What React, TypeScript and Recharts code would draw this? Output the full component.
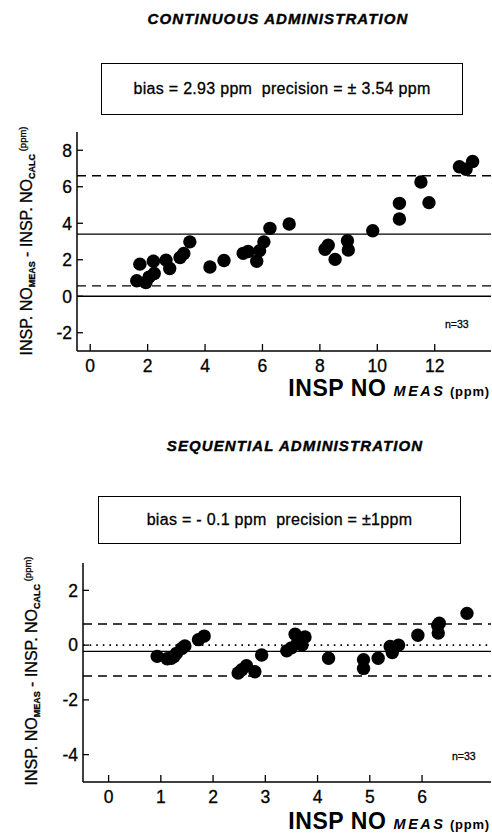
import React from "react";
import {
  ScatterChart,
  Scatter,
  XAxis,
  YAxis,
  ReferenceLine,
} from "recharts";

// Continuous administration (top panel)
const continuousMeas = [
  1.62, 1.73, 1.94, 2.05, 2.2, 2.23, 2.64, 2.77, 3.13, 3.26, 3.47, 4.17, 4.66,
  5.33, 5.5, 5.8, 5.9, 6.05, 6.26, 6.93, 8.18, 8.29, 8.53, 8.96, 8.99, 9.84,
  10.77, 10.77, 11.52, 11.8, 12.86, 13.09, 13.32,
];
const continuousDiff = [
  0.85, 1.76, 0.75, 1.05, 1.92, 1.25, 1.98, 1.52, 2.12, 2.34, 2.98, 1.6, 1.96,
  2.35, 2.45, 1.92, 2.5, 2.98, 3.72, 3.96, 2.57, 2.8, 2.02, 3.04, 2.53, 3.59,
  5.09, 4.23, 6.26, 5.13, 7.1, 6.96, 7.38,
];
const continuousXTicks = [0, 2, 4, 6, 8, 10, 12];
const continuousYTicks = [-2, 0, 2, 4, 6, 8];
const continuousLines = { mean: 3.4, upper: 6.6, lower: 0.57 };

// Sequential administration (bottom panel)
const sequentialMeas = [
  0.93, 1.12, 1.2, 1.25, 1.3, 1.4, 1.46, 1.72, 1.83, 2.48, 2.55, 2.64, 2.8,
  2.93, 3.41, 3.5, 3.57, 3.62, 3.66, 3.7, 3.76, 4.21, 4.88, 4.88, 5.16, 5.39,
  5.43, 5.55, 5.92, 6.3, 6.33, 6.31, 6.86,
];
const sequentialDiff = [
  -0.41, -0.5, -0.48, -0.42, -0.3, -0.12, -0.03, 0.2, 0.33, -1.02, -0.9, -0.75,
  -0.97, -0.36, -0.21, -0.1, 0.4, 0.1, 0.18, 0.0, 0.3, -0.48, -0.53, -0.85,
  -0.48, -0.05, -0.27, 0.0, 0.36, 0.72, 0.8, 0.44, 1.16,
];
const sequentialXTicks = [0, 1, 2, 3, 4, 5, 6];
const sequentialYTicks = [-4, -2, 0, 2];
const sequentialLines = { mean: -0.23, upper: 0.77, lower: -1.13 };

const FONT = "'Liberation Sans', Arial, Helvetica, sans-serif";

const YTick = (props: any) => {
  const { x, y, payload } = props;
  return (
    <g>
      <line x1={x + 5} x2={x + 11} y1={y} y2={y} stroke="#000" strokeWidth={1.3} />
      <text x={x} y={y} dy="0.36em" textAnchor="end" fontSize={17.5} fontFamily={FONT} fill="#000" stroke="#000" strokeWidth={0.3}>
        {payload.value}
      </text>
    </g>
  );
};

const XTick = (props: any) => {
  const { x, y, payload } = props;
  return (
    <g>
      <line x1={x} x2={x} y1={y - 9} y2={y - 16} stroke="#000" strokeWidth={1.3} />
      <text x={x} y={y} dy="0.71em" textAnchor="middle" fontSize={17.5} fontFamily={FONT} fill="#000" stroke="#000" strokeWidth={0.3}>
        {payload.value}
      </text>
    </g>
  );
};

const Dot = (props: any) => <circle cx={props.cx} cy={props.cy} r={6.7} fill="#000" />;

function Panel({
  meas,
  diff,
  xTicks,
  yTicks,
  xDomain,
  yDomain,
  lines,
  dotted,
  top,
  height,
  marginTop,
  marginLeft,
  xAxisHeight,
}: any) {
  const data = meas.map((m: number, i: number) => ({ x: m, y: diff[i] }));
  return (
    <div style={{ position: "absolute", left: 0, top }}>
      <ScatterChart
        width={492}
        height={height}
        margin={{ top: marginTop, right: 1, left: marginLeft, bottom: 0 }}
      >
        <XAxis
          type="number"
          dataKey="x"
          domain={xDomain}
          ticks={xTicks}
          interval={0}
          allowDataOverflow
          axisLine={{ stroke: "#000", strokeWidth: 1.5 }}
          tickLine={false}
          tickSize={0}
          tickMargin={9}
          height={xAxisHeight}
          tick={<XTick />}
        />
        <XAxis
          xAxisId="top"
          orientation="top"
          type="number"
          domain={xDomain}
          allowDataOverflow
          tick={false}
          tickLine={false}
          height={0}
          axisLine={{ stroke: "#000", strokeWidth: 1.5 }}
        />
        <YAxis
          type="number"
          dataKey="y"
          domain={yDomain}
          ticks={yTicks}
          interval={0}
          allowDataOverflow
          width={40}
          axisLine={{ stroke: "#000", strokeWidth: 1.5 }}
          tickLine={false}
          tickSize={0}
          tickMargin={5}
          tick={<YTick />}
        />
        {dotted ? (
          <ReferenceLine y={0} stroke="#000" strokeWidth={1.6} strokeDasharray="1.6 5" />
        ) : (
          <ReferenceLine y={0} stroke="#000" strokeWidth={1.3} />
        )}
        <ReferenceLine y={lines.mean} stroke="#000" strokeWidth={1.3} />
        <ReferenceLine y={lines.upper} stroke="#000" strokeWidth={1.4} strokeDasharray="9 6" />
        <ReferenceLine y={lines.lower} stroke="#000" strokeWidth={1.4} strokeDasharray="9 6" />
        <Scatter data={data} shape={<Dot />} isAnimationActive={false} />
      </ScatterChart>
    </div>
  );
}

const titleStyle: React.CSSProperties = {
  position: "absolute",
  transform: "translateX(-50%)",
  whiteSpace: "nowrap",
  fontFamily: FONT,
  fontWeight: 700,
  fontStyle: "italic",
  fontSize: 15,
  letterSpacing: 1.1,
  lineHeight: 1,
  WebkitTextStroke: "0.4px #000",
};

const boxStyle: React.CSSProperties = {
  position: "absolute",
  border: "1.5px solid #000",
  boxSizing: "border-box",
  display: "flex",
  alignItems: "center",
  justifyContent: "center",
  fontFamily: FONT,
  fontSize: 16,
  letterSpacing: 0.3,
  whiteSpace: "pre",
  WebkitTextStroke: "0.3px #000",
};

function YLabel({ cx, cy }: { cx: number; cy: number }) {
  const sub: React.CSSProperties = { fontSize: 9, fontWeight: 700, verticalAlign: -3 };
  return (
    <div
      style={{
        position: "absolute",
        left: cx,
        top: cy,
        transform: "translate(-50%, -50%) rotate(-90deg)",
        whiteSpace: "nowrap",
        fontFamily: FONT,
        fontSize: 16,
        lineHeight: 1,
        WebkitTextStroke: "0.3px #000",
      }}
    >
      INSP. NO<span style={sub}>MEAS</span> - INSP. NO<span style={sub}>CALC</span>
      <span style={{ fontSize: 9.5, verticalAlign: 6 }}> (ppm)</span>
    </div>
  );
}

function XLabel({ right, baseline }: { right: number; baseline: number }) {
  return (
    <div
      style={{
        position: "absolute",
        right: 492 - right,
        top: baseline - 21,
        whiteSpace: "nowrap",
        fontFamily: FONT,
        fontWeight: 700,
        lineHeight: "21px",
      }}
    >
      <span style={{ fontSize: 23, letterSpacing: 0.6 }}>INSP NO </span>
      <span style={{ fontSize: 14.5, fontStyle: "italic", letterSpacing: 2.5 }}>MEAS</span>
      <span style={{ fontSize: 13, letterSpacing: 0.8 }}> (ppm)</span>
    </div>
  );
}

const nStyle: React.CSSProperties = {
  position: "absolute",
  fontFamily: FONT,
  fontSize: 10.5,
  lineHeight: 1,
  whiteSpace: "nowrap",
  WebkitTextStroke: "0.3px #000",
};

export default function App() {
  return (
    <div
      style={{
        position: "absolute",
        left: 0,
        top: 0,
        width: 492,
        height: 835,
        overflow: "hidden",
        background: "#fff",
        color: "#000",
      }}
    >
      <div style={{ ...titleStyle, left: 278, top: 11 }}>CONTINUOUS ADMINISTRATION</div>
      <div style={{ ...boxStyle, left: 101, top: 63, width: 362, height: 52 }}>
        {"bias = 2.93 ppm  precision = ± 3.54 ppm"}
      </div>

      <Panel
        meas={continuousMeas}
        diff={continuousDiff}
        xTicks={continuousXTicks}
        yTicks={continuousYTicks}
        xDomain={[-0.46, 13.96]}
        yDomain={[-3, 9]}
        lines={continuousLines}
        dotted={false}
        top={120}
        height={260}
        marginTop={12}
        marginLeft={37}
        xAxisHeight={29}
      />
      <YLabel cx={27} cy={241} />
      <div style={{ ...nStyle, left: 445, top: 319 }}>n=33</div>
      <XLabel right={490} baseline={399} />

      <div style={{ ...titleStyle, left: 295, top: 438 }}>SEQUENTIAL ADMINISTRATION</div>
      <div style={{ ...boxStyle, left: 98, top: 496, width: 363, height: 48 }}>
        {"bias = - 0.1 ppm  precision = ±1ppm"}
      </div>

      <Panel
        meas={sequentialMeas}
        diff={sequentialDiff}
        xTicks={sequentialXTicks}
        yTicks={sequentialYTicks}
        xDomain={[-0.49, 7.32]}
        yDomain={[-5, 3]}
        lines={sequentialLines}
        dotted={true}
        top={550}
        height={265}
        marginTop={13}
        marginLeft={43}
        xAxisHeight={33}
      />
      <YLabel cx={32} cy={671} />
      <div style={{ ...nStyle, left: 452, top: 751 }}>n=33</div>
      <XLabel right={490} baseline={832} />
    </div>
  );
}
